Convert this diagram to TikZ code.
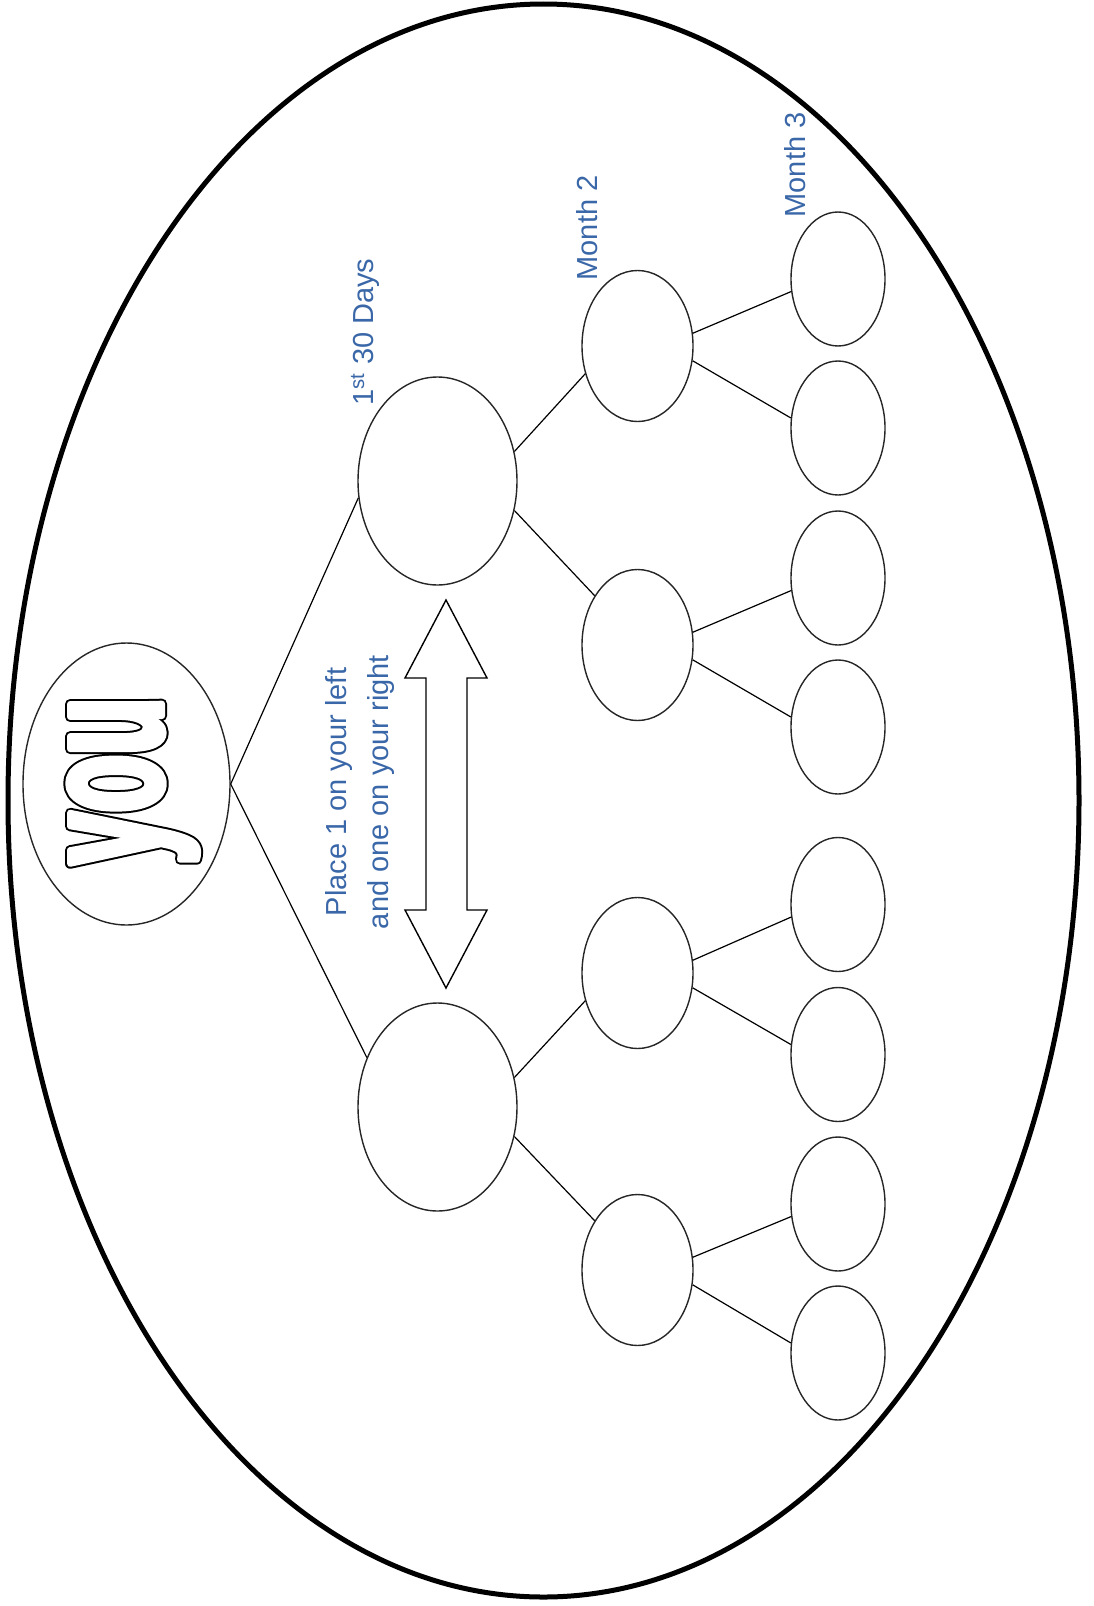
\documentclass[tikz,border=0pt]{standalone}
\usepackage{fontspec}
\usetikzlibrary{shapes.geometric}
\newfontfamily\tagfont{Liberation Sans}
\newfontfamily\youfont[FakeStretch=0.54]{Liberation Sans}
\definecolor{tagblue}{HTML}{3A67A8}
\newcommand{\fatglyphs}[3]{\special{pdf:literal direct 2 Tr #1 w 1 j #2}#3\special{pdf:literal direct 0 Tr}}

\begin{document}
\begin{tikzpicture}[x=1pt,y=-1pt,
  bubble/.style={draw=black!85, line width=1.4pt, ellipse, inner sep=0pt},
  bigbubble/.style={bubble, minimum width=159pt, minimum height=208pt},
  midbubble/.style={bubble, minimum width=111pt, minimum height=151pt},
  leafbubble/.style={bubble, minimum width=94pt, minimum height=134pt},
  link/.style={line width=1.2pt},
  word/.style={rotate=90, anchor=base, inner sep=0pt, font=\youfont\bfseries\fontsize{174}{174}\selectfont},
  tag/.style={rotate=90, text=tagblue, inner sep=0pt, font=\tagfont\fontsize{29}{42}\selectfont}]

\useasboundingbox (0,0) rectangle (1094,1606);
\draw[line width=5pt] (543.5,800.5) ellipse [x radius=535.5, y radius=796.5];

\node[bubble, minimum width=207pt, minimum height=282pt] (you) at (126.5,784) {};
\node[word] (youshadow) at (162,781) {\fatglyphs{10}{0 g 0 G}{you}};
\node[word] (youword) at (162,781) {\fatglyphs{6}{1 g 1 G}{you}};

\pgfmathsetmacro{\colA}{437.5}
\pgfmathsetmacro{\colB}{637.5}
\pgfmathsetmacro{\colC}{838}
\node[bigbubble] (first1) at (\colA,481) {};
\node[bigbubble] (first2) at (\colA,1107) {};
\foreach \y [count=\i] in {346,645,973,1270}
  \node[midbubble] (second\i) at (\colB,\y) {};
\foreach \y [count=\i] in {279,428,578,727,904.5,1054.5,1204,1353}
  \node[leafbubble] (third\i) at (\colC,\y) {};

\draw[link] (you.east) -- (first1.192);
\draw[link] (you.east) -- (first2.145);
\foreach \p/\ua/\lb in {1/1/2, 2/3/4} {
  \draw[link] (first\p.21) -- (second\ua.208);
  \draw[link] (first\p.-21) -- (second\lb.131);
}
\foreach \m/\ua/\lb in {1/1/2, 2/3/4, 3/5/6, 4/7/8} {
  \draw[link] (second\m.13) -- (third\ua.195);
  \draw[link] (second\m.-15) -- (third\lb.168);
}

% two-headed block arrow between the first pair
\draw[line width=1.4pt, fill=white] (446,600) -- (487,678) -- (467,678) -- (467,910) -- (487,910) -- (446,988) -- (405,910) -- (426,910) -- (426,678) -- (405,678) -- cycle;

\node[tag] (daystag) at (365,332) {1\textsuperscript{st} 30 Days};
\node[tag] (month2tag) at (587,228) {Month 2};
\node[tag] (month3tag) at (795,165) {Month 3};
\node[tag, align=center] (placetag) at (360,792) {Place 1 on your left\\and one on your right};

\end{tikzpicture}
\end{document}
